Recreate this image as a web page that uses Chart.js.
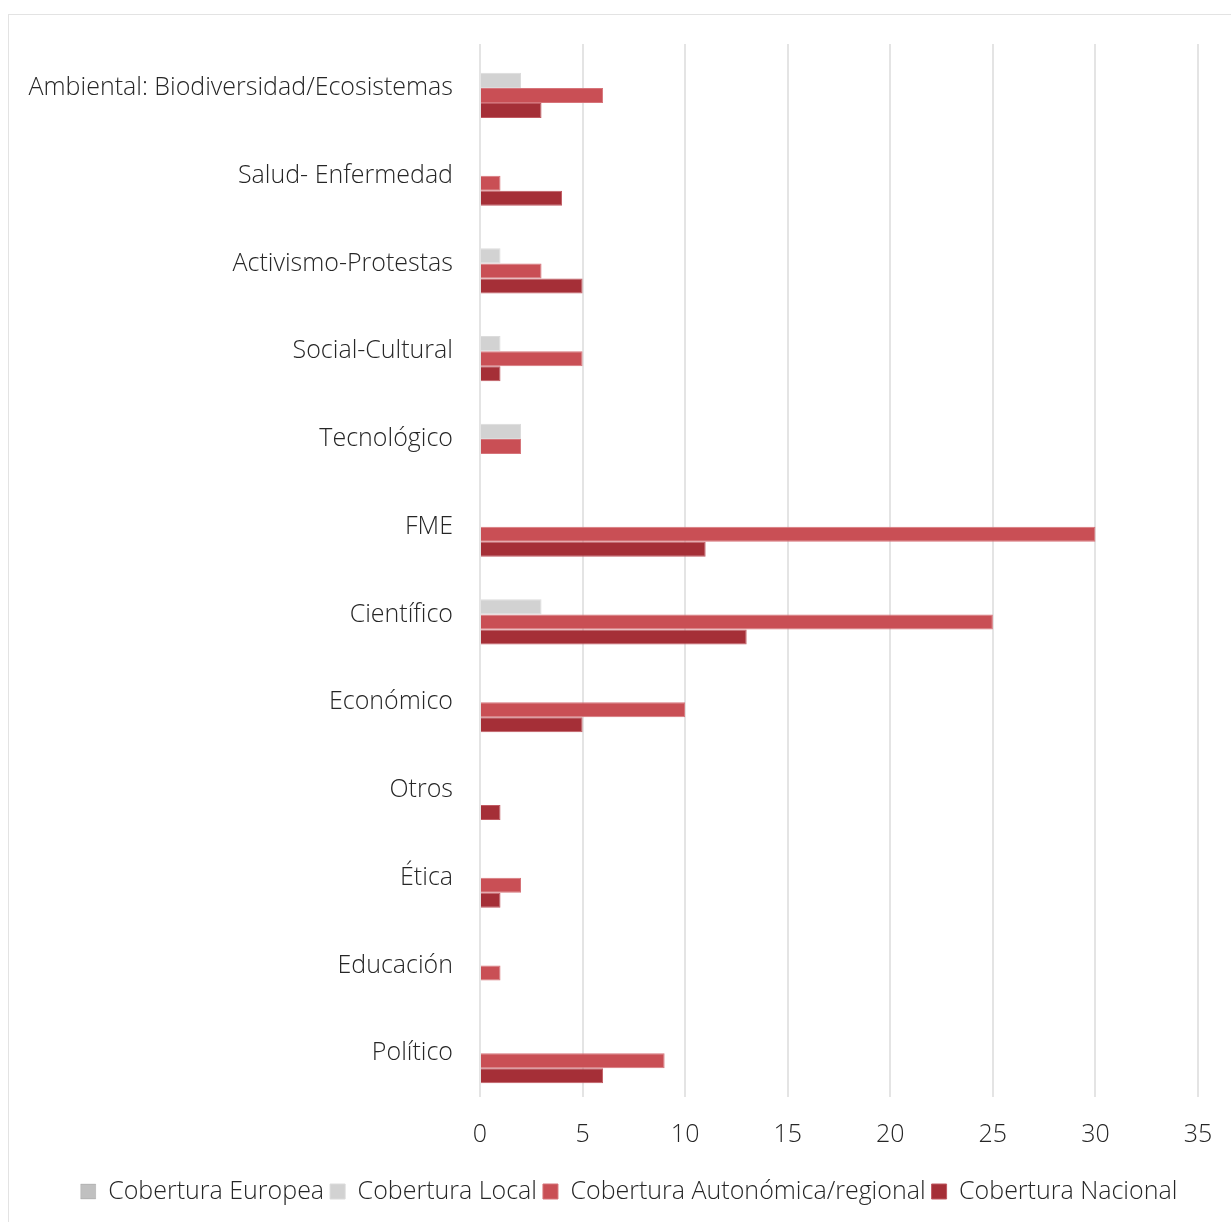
<!DOCTYPE html>
<html>
<head>
<meta charset="utf-8">
<script src="https://cdn.jsdelivr.net/npm/chart.js@4.4.0/dist/chart.umd.min.js"></script>
<style>
  html, body { margin: 0; padding: 0; background: #fff; }
  #frame {
    position: absolute; left: 8px; top: 14px; width: 1240px; height: 1230px;
    border-left: 1px solid #e3e3e3; border-top: 1px solid #e3e3e3;
  }
  #wrap { position: absolute; left: 0; top: 0; width: 1231px; height: 1222px; }
</style>
</head>
<body>
<div id="frame"></div>
<div id="wrap"><canvas id="chart" width="1231" height="1222"></canvas></div>
<script>
// categories, top to bottom
const categories = [
    'Ambiental: Biodiversidad/Ecosistemas', 'Salud- Enfermedad', 'Activismo-Protestas',
    'Social-Cultural', 'Tecnológico', 'FME', 'Científico', 'Económico',
    'Otros', 'Ética', 'Educación', 'Político'
];

// series values (same order as categories)
const europea    = [0, 0, 0, 0, 0, 0, 0, 0, 0, 0, 0, 0];
const local      = [2, 0, 1, 1, 2, 0, 3, 0, 0, 0, 0, 0];
const autonomica = [6, 1, 3, 5, 2, 30, 25, 10, 0, 2, 1, 9];
const nacional   = [3, 4, 5, 1, 0, 11, 13, 5, 1, 1, 0, 6];

const xTicks = [0, 5, 10, 15, 20, 25, 30, 35];

const fontFamily = "'Open Sans', 'Noto Sans', sans-serif";
const textColor = '#262626';
const fontSize = 25;

// nudge the legend so it is centred under the whole picture, like the original
const legendShift = {
    id: 'legendShift',
    afterLayout(chart) {
        chart.legend.left += 30;
        chart.legend.right += 30;
    }
};

const ctx = document.getElementById('chart').getContext('2d');
const chart = new Chart(ctx, {
    type: 'bar',
    data: {
        labels: categories,
        datasets: [
            { label: 'Cobertura Europea', data: europea, backgroundColor: '#c0c0c0' },
            { label: 'Cobertura Local', data: local, backgroundColor: '#d2d2d2', borderColor: '#dcdcdc' },
            { label: 'Cobertura Autonómica/regional', data: autonomica, backgroundColor: '#c94f55', borderColor: '#d6747a' },
            { label: 'Cobertura Nacional', data: nacional, backgroundColor: '#a52f37', borderColor: '#c05a62' }
        ]
    },
    plugins: [legendShift],
    options: {
        indexAxis: 'y',
        responsive: false,
        animation: false,
        datasets: {
            bar: { categoryPercentage: 0.684, barPercentage: 1.0, borderWidth: 1 }
        },
        layout: {
            padding: { left: 0, right: 33, top: 44, bottom: 8 }
        },
        plugins: {
            tooltip: { enabled: false },
            legend: {
                position: 'bottom',
                labels: {
                    color: textColor,
                    boxWidth: 15,
                    boxHeight: 15,
                    padding: 6,
                    font: { family: fontFamily, size: fontSize, weight: 300 }
                }
            }
        },
        scales: {
            x: {
                min: 0,
                max: 35,
                afterBuildTicks: (scale) => {
                    scale.ticks = xTicks.map(v => ({ value: v }));
                },
                afterFit: (scale) => {
                    scale.height = 76;
                    scale.paddingLeft = 0;
                    scale.paddingRight = 0;
                },
                grid: { color: '#e4e4e4', lineWidth: 2, drawTicks: false },
                border: { display: false },
                ticks: {
                    color: textColor,
                    padding: 23,
                    font: { family: fontFamily, size: fontSize, weight: 300 }
                }
            },
            y: {
                afterFit: (scale) => { scale.width = 480; },
                grid: { display: false, drawTicks: false },
                border: { display: false },
                ticks: {
                    color: textColor,
                    padding: 27,
                    font: { family: fontFamily, size: fontSize, weight: 300 }
                }
            }
        }
    }
});
</script>
</body>
</html>
